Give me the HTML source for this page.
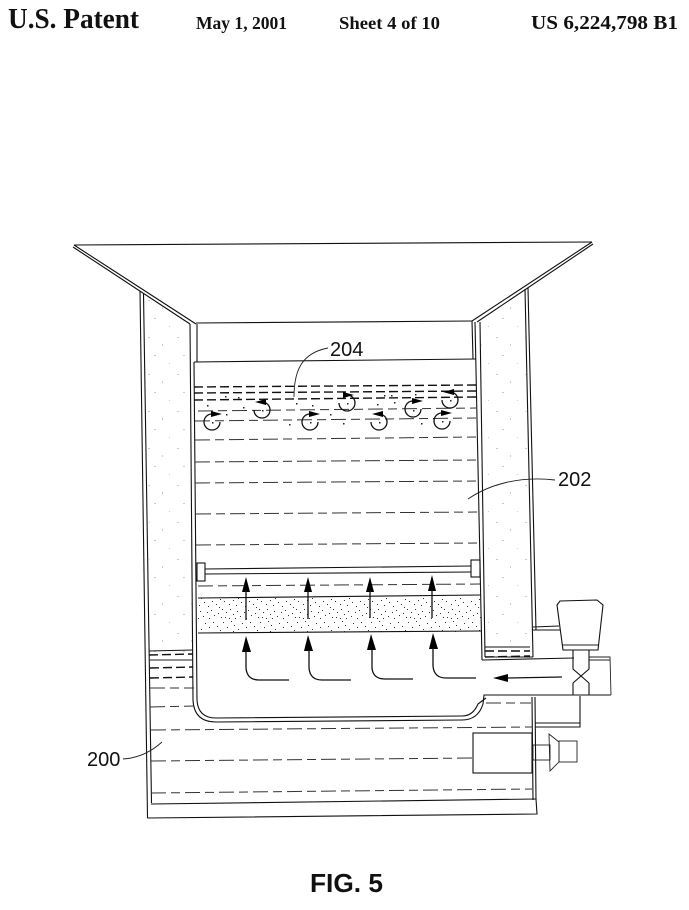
<!DOCTYPE html>
<html><head><meta charset="utf-8"><style>
html,body{margin:0;padding:0;background:#fff}
svg{display:block}
.s{fill:none;stroke:#111;stroke-width:1.1}
.t{fill:none;stroke:#222;stroke-width:.9}
.d{fill:none;stroke:#333;stroke-width:1;stroke-dasharray:15 5 9 5}
.b{fill:none;stroke:#111;stroke-width:1.4;stroke-dasharray:9 4}
.a{fill:none;stroke:#111;stroke-width:1.3}
.h{font-family:"Liberation Serif",serif;font-weight:bold;fill:#111}
.l{font-family:"Liberation Sans",sans-serif;font-size:20px;fill:#111}
</style></head><body>
<svg width="689" height="910" viewBox="0 0 689 910" xmlns="http://www.w3.org/2000/svg">
<defs>
<pattern id="st" width="37" height="31" patternUnits="userSpaceOnUse">
<g fill="#333">
<rect x="1" y="2" width="1" height="1"/><rect x="5" y="7" width="1" height="1"/><rect x="9" y="1" width="1" height="1"/><rect x="12" y="5" width="1" height="1"/><rect x="16" y="9" width="1" height="1"/><rect x="20" y="3" width="1" height="1"/><rect x="24" y="7" width="1" height="1"/><rect x="28" y="2" width="1" height="1"/><rect x="32" y="6" width="1" height="1"/><rect x="35" y="10" width="1" height="1"/>
<rect x="2" y="12" width="1" height="1"/><rect x="7" y="15" width="1" height="1"/><rect x="11" y="11" width="1" height="1"/><rect x="14" y="16" width="1" height="1"/><rect x="19" y="13" width="1" height="1"/><rect x="23" y="17" width="1" height="1"/><rect x="27" y="12" width="1" height="1"/><rect x="31" y="15" width="1" height="1"/><rect x="34" y="18" width="1" height="1"/>
<rect x="0" y="20" width="1" height="1"/><rect x="4" y="23" width="1" height="1"/><rect x="8" y="20" width="1" height="1"/><rect x="11" y="25" width="1" height="1"/><rect x="15" y="22" width="1" height="1"/><rect x="18" y="27" width="1" height="1"/><rect x="22" y="23" width="1" height="1"/><rect x="26" y="21" width="1" height="1"/><rect x="29" y="26" width="1" height="1"/><rect x="33" y="24" width="1" height="1"/>
<rect x="3" y="28" width="1" height="1"/><rect x="7" y="29" width="1" height="1"/><rect x="13" y="29" width="1" height="1"/><rect x="24" y="29" width="1" height="1"/><rect x="36" y="28" width="1" height="1"/>
</g>
</pattern>
<pattern id="lt" width="29" height="37" patternUnits="userSpaceOnUse">
<g fill="#ccc"><rect x="3" y="4" width="2" height="1"/><rect x="17" y="11" width="1" height="2"/><rect x="9" y="22" width="2" height="1"/><rect x="24" y="30" width="1" height="1"/></g>
</pattern>
</defs>

<text class="h" x="8" y="28" font-size="28" textLength="131" lengthAdjust="spacingAndGlyphs">U.S. Patent</text>
<text class="h" x="196" y="29" font-size="18" textLength="91" lengthAdjust="spacingAndGlyphs">May 1, 2001</text>
<text class="h" x="339" y="29" font-size="18" textLength="101" lengthAdjust="spacingAndGlyphs">Sheet 4 of 10</text>
<text class="h" x="531" y="29" font-size="20" textLength="147" lengthAdjust="spacingAndGlyphs">US 6,224,798 B1</text>

<!-- wall stipple -->
<polygon points="145,296 188,324 192,654 151,654" fill="url(#lt)"/>
<polygon points="481,322 525,292 530,650 486,650" fill="url(#lt)"/>

<!-- funnel -->
<path class="s" d="M74,245 L592,242"/>
<path class="s" d="M74,245 L196,324"/>
<path class="s" d="M73,247 L190,324"/>
<path class="s" d="M592,242 L472,321"/>
<path class="s" d="M593,244 L477,322"/>
<path class="s" d="M196,323 L472,321"/>
<path class="s" d="M194,362 L476,359"/>
<path class="s" d="M197,324 L197,362"/>
<path class="s" d="M472,321 L473,359"/>

<!-- left outer wall -->
<path class="s" d="M140,291 L147.5,818"/>
<path class="s" d="M143.5,294 L151.5,803"/>
<!-- left inner wall and bottom curve -->
<path class="s" d="M190,324 L193,700 Q194,722 216,722 L462,720 Q478,720 483,704 L484,695 L611,695"/>
<path class="s" d="M194,362 L197,700 Q198,718 216,718 L462,716 Q473,716 478,704 L486,698"/>
<!-- right inner wall -->
<path class="s" d="M475,322 L482,660"/>
<path class="s" d="M480,322 L485,657"/>
<path class="s" d="M482,660 L574,658"/>
<path class="s" d="M485,657 L533,657"/>
<!-- right outer wall -->
<path class="s" d="M525,289 L533,657"/>
<path class="s" d="M528,288 L536,630"/>
<!-- base -->
<path class="s" d="M532,697 L533,800 M535,697 L536,800"/>
<path class="s" d="M151,804 L536,799"/>
<path class="s" d="M147.5,818 L537,814 L536,799"/>

<!-- filter -->
<rect x="198" y="597" width="283" height="35" fill="url(#st)"/>
<path class="s" d="M198,598 L481,595"/>
<path class="s" d="M198,633 L481,631"/>

<!-- bar -->
<path class="s" d="M205,569 L471,566"/>
<path class="s" d="M205,574 L471,572"/>
<rect class="s" x="197" y="563" width="8" height="18" fill="#fff"/>
<rect class="s" x="471" y="560" width="9" height="17" fill="#fff"/>

<!-- water lines upper -->
<path class="b" d="M194,387 L476,385"/>
<path class="b" d="M194,393 L476,391"/>
<path class="b" d="M194,400 L476,397"/>
<path class="d" d="M198,411 L476,408"/>
<path class="d" d="M195,421 L476,418"/>
<path class="d" d="M195,440 L476,437"/>
<path class="d" d="M195,462 L476,460"/>
<path class="d" d="M195,483 L476,481"/>
<path class="d" d="M196,514 L477,512"/>
<path class="d" d="M196,545 L477,543"/>
<path class="d" d="M198,586 L480,584"/>

<!-- lower tank -->
<path class="s" d="M149,651 L193,650"/>
<path class="b" d="M149,655 L193,654"/>
<path class="t" d="M149,660 L193,660"/>
<path class="b" d="M150,668 L193,667"/>
<path class="b" d="M150,678 L193,677"/>
<path class="d" d="M150,688 L194,688"/>
<path class="d" d="M150,707 L194,706"/>
<path class="d" d="M151,730 L532,727"/>
<path class="d" d="M151,761 L473,758"/>
<path class="d" d="M151,793 L532,789"/>
<path class="d" d="M486,703 L531,703"/>
<!-- right reservoir in wall -->
<path class="s" d="M485,647 L530,647"/>
<path class="b" d="M485,651 L530,651"/>
<path class="b" d="M485,657 L530,656"/>

<!-- arrows upper -->
<g fill="#000">
<polygon points="246,577 242,592 250,592"/><polygon points="308,577 304,592 312,592"/><polygon points="370,577 366,592 374,592"/><polygon points="432,575 428,591 436,591"/>
<polygon points="246,636 242,652 251,652"/><polygon points="308,635 304,651 313,651"/><polygon points="371,634 367,650 376,650"/><polygon points="433,633 429,649 438,649"/>
<polygon points="493,678 508,674 508,682"/>
</g>
<path class="a" d="M246,590 L246,620 M308,590 L308,619 M370,590 L370,618 M432,590 L432,618"/>
<path class="a" d="M246,650 L246,668 Q247,680 259,680 L289,680"/>
<path class="a" d="M309,650 L309,668 Q310,680 322,680 L351,680"/>
<path class="a" d="M372,650 L372,668 Q373,679 385,679 L413,679"/>
<path class="a" d="M433,648 L433,666 Q434,678 446,678 L476,678"/>
<path class="a" d="M506,678 L562,677"/>

<!-- rotors -->
<g fill="none" stroke="#111" stroke-width="1.3">
<path d="M220,422 A8,8 0 1 1 212,414"/><path d="M262,402 A8,8 0 1 1 254,410"/>
<path d="M318,422 A8,8 0 1 1 310,414"/><path d="M347,395 A8,8 0 1 1 339,403"/>
<path d="M379,414 A8,8 0 1 1 371,422"/><path d="M421,409 A8,8 0 1 1 413,401"/>
<path d="M450,421 A8,8 0 1 1 442,413"/><path d="M450,392 A8,8 0 1 1 442,400"/>
</g>
<g fill="#000">
<polygon points="211,411 222,414 211,417"/><polygon points="266,399 255,402 266,405"/><polygon points="309,411 320,414 309,417"/>
<polygon points="343,392 354,395 343,398"/><polygon points="383,411 372,414 383,417"/><polygon points="412,398 423,401 412,404"/>
<polygon points="441,410 452,413 441,416"/><polygon points="454,389 443,392 454,395"/>
</g>
<!-- bubbles -->
<g fill="#222">
<rect x="212" y="422" width="1.5" height="1.5"/><rect x="262" y="410" width="1.5" height="1.5"/><rect x="310" y="422" width="1.5" height="1.5"/><rect x="347" y="403" width="1.5" height="1.5"/><rect x="379" y="422" width="1.5" height="1.5"/><rect x="413" y="410" width="1.5" height="1.5"/><rect x="442" y="421" width="1.5" height="1.5"/><rect x="450" y="400" width="1.5" height="1.5"/>
<rect x="207" y="405" width="1.5" height="1.5"/><rect x="225" y="396" width="1.5" height="1.5"/><rect x="238" y="397" width="1.5" height="1.5"/><rect x="243" y="407" width="1.5" height="1.5"/><rect x="226" y="414" width="1.5" height="1.5"/><rect x="289" y="424" width="1.5" height="1.5"/><rect x="296" y="403" width="1.5" height="1.5"/><rect x="312" y="405" width="1.5" height="1.5"/><rect x="330" y="414" width="1.5" height="1.5"/><rect x="343" y="423" width="1.5" height="1.5"/><rect x="377" y="404" width="1.5" height="1.5"/><rect x="384" y="395" width="1.5" height="1.5"/><rect x="391" y="395" width="1.5" height="1.5"/><rect x="394" y="402" width="1.5" height="1.5"/><rect x="415" y="394" width="1.5" height="1.5"/><rect x="421" y="423" width="1.5" height="1.5"/>
</g>

<!-- pump hopper and valve -->
<path class="s" d="M533,627 L559,626 M533,630 L560,630"/>
<polygon class="s" points="557,605 560,601 597,600 603,605 598,650 563,650"/>
<path class="t" d="M562,645 L598,645"/>
<path class="s" d="M573,650 L573,669 L589,683 M589,650 L589,669 L573,683"/>
<path class="s" d="M573,683 L573,695 M589,683 L589,695"/>
<path class="t" d="M589,657 L610,657 L611,695 M589,660 L610,660"/>
<!-- step box -->
<path class="s" d="M580,696 L580,727 L535,727 M535,723 L580,723"/>
<!-- motor -->
<rect class="s" x="473" y="733" width="59" height="40" fill="#fff"/>
<rect class="t" x="533" y="745" width="17" height="15"/>
<polygon class="t" points="549,734 559,742 559,762 550,771"/>
<rect class="t" x="559" y="741" width="18" height="21"/>

<!-- leaders -->
<path class="t" stroke-width="1.1" d="M294,397 C294,370 302,353 328,348"/>
<path class="t" stroke-width="1.1" d="M468,499 C490,484 520,476 555,480"/>
<path class="t" stroke-width="1.1" d="M123,759 C140,758 152,751 162,742"/>

<text class="l" x="330" y="356">204</text>
<text class="l" x="558" y="486">202</text>
<text class="l" x="87" y="766">200</text>
<text x="310" y="892" font-family="'Liberation Sans',sans-serif" font-weight="bold" font-size="26" fill="#111" textLength="73" lengthAdjust="spacingAndGlyphs">FIG. 5</text>
</svg>
</body></html>
